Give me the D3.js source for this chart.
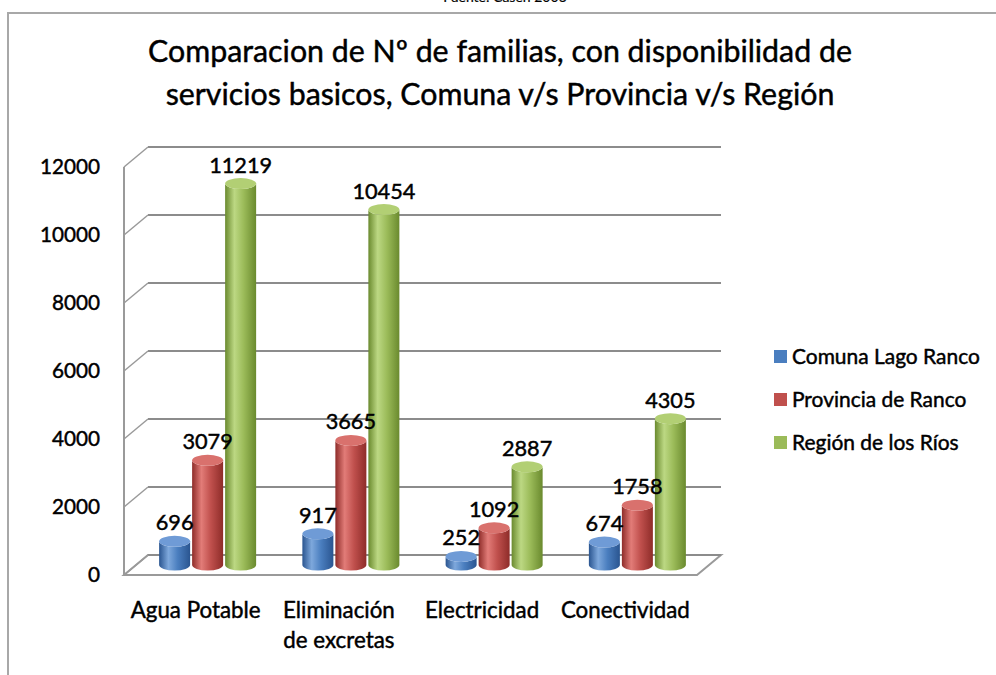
<!DOCTYPE html>
<html>
<head>
<meta charset="utf-8">
<script src="https://cdn.jsdelivr.net/npm/d3@7"></script>
<style>
  html, body { margin: 0; padding: 0; background: #fff; }
  svg { display: block; }
  text { font-family: Lato, "Open Sans", sans-serif; fill: #000; stroke: #000; stroke-width: 0.45px; }
</style>
</head>
<body>
<svg id="chart" width="996" height="675"></svg>
<script>
// ---- data ----
const categories = ["Agua Potable", "Eliminación\nde excretas", "Electricidad", "Conectividad"];
const seriesNames = ["Comuna Lago Ranco", "Provincia de Ranco", "Región de los Ríos"];
const comuna = [696, 917, 252, 674];
const provincia = [3079, 3665, 1092, 1758];
const region = [11219, 10454, 2887, 4305];
const yTicks = [0, 2000, 4000, 6000, 8000, 10000, 12000];
const titleLines = ["Comparacion de Nº de familias, con disponibilidad de",
                    "servicios basicos, Comuna v/s Provincia v/s Región"];
const sourceText = "Fuente: Casen 2006";

const seriesValues = [comuna, provincia, region];
const colors = [
  {base: "#4a7ebf", light: "#7ea8dc", dark: "#2a5590", top: "#6f9bd6"},
  {base: "#c0504d", light: "#e27c78", dark: "#8e2c29", top: "#d9716d"},
  {base: "#9bbb59", light: "#bcd883", dark: "#6a8a2e", top: "#b2cf74"}
];

const svg = d3.select("#chart");
const defs = svg.append("defs");

function fitSize(sample, target, start, weight) {
  const t = svg.append("text").attr("font-size", start).attr("font-weight", weight || 400).text(sample);
  const w = t.node().getComputedTextLength();
  t.remove();
  return start * target / w;
}

// frame
svg.append("rect").attr("x", 8).attr("y", 13).attr("width", 1100).attr("height", 800)
  .attr("fill", "none").attr("stroke", "#a8a8a8").attr("stroke-width", 2);

// source (cut off at top, as in the reference)
svg.append("text").attr("x", 505).attr("y", 2).attr("text-anchor", "middle")
  .attr("font-size", 14).style("stroke-width", "0.2px").text(sourceText);

// title
const titleSize = fitSize(titleLines[0], 704, 26, 400);
svg.append("g").selectAll("text").data(titleLines).join("text")
  .attr("x", 500).attr("y", (d, i) => 62 + i * 43)
  .attr("text-anchor", "middle").attr("font-size", titleSize).text(d => d);

// scales
const depthX = 24, depthY = -20;
const yFront = d3.scaleLinear().domain([0, 12000]).range([575, 167]);
const x0 = d3.scaleBand().domain(categories).range([124, 697]);
const x1 = d3.scaleBand().domain(seriesNames).range([-49.5, 49.5]);
const xEnd = x0.range()[1];
const xStart = x0.range()[0];

// walls & gridlines
const grid = svg.append("g");
const floorY = yFront(0);
grid.append("path")
  .attr("d", `M${xStart},${floorY} L${xEnd},${floorY} L${xEnd + depthX},${floorY + depthY} L${xStart + depthX},${floorY + depthY} Z`)
  .attr("fill", "#fff").attr("stroke", "#9a9a9a").attr("stroke-width", 2);
grid.selectAll("line.g").data(yTicks).join("line").attr("class", "g")
  .attr("x1", xStart + depthX).attr("x2", xEnd + depthX)
  .attr("y1", d => yFront(d) + depthY).attr("y2", d => yFront(d) + depthY)
  .attr("stroke", "#8c8c8c").attr("stroke-width", 2);
grid.selectAll("line.d").data(yTicks).join("line").attr("class", "d")
  .attr("x1", xStart).attr("x2", xStart + depthX)
  .attr("y1", d => yFront(d)).attr("y2", d => yFront(d) + depthY)
  .attr("stroke", "#9a9a9a").attr("stroke-width", 1.5);
grid.append("line").attr("x1", xStart).attr("x2", xStart)
  .attr("y1", yFront(12000)).attr("y2", yFront(0))
  .attr("stroke", "#9a9a9a").attr("stroke-width", 2);

// y tick labels
const tickSize = fitSize("12000", 60, 20, 400);
svg.append("g").selectAll("text").data(yTicks).join("text")
  .attr("x", 100).attr("y", d => yFront(d)).attr("dy", "0.36em")
  .attr("text-anchor", "end").attr("font-size", tickSize).text(d => d);

// gradients
colors.forEach((c, i) => {
  const g = defs.append("linearGradient").attr("id", "grad" + i)
    .attr("x1", "0%").attr("x2", "100%").attr("y1", "0%").attr("y2", "0%");
  g.append("stop").attr("offset", "0%").attr("stop-color", c.dark);
  g.append("stop").attr("offset", "30%").attr("stop-color", c.light);
  g.append("stop").attr("offset", "60%").attr("stop-color", c.base);
  g.append("stop").attr("offset", "100%").attr("stop-color", c.dark);
});

// bars (cylinders), at half depth
const midX = depthX / 2, midY = depthY / 2;
const barW = 31, rx = barW / 2, ry = 5.5;
const bars = [];
categories.forEach((cat, ci) => {
  seriesNames.forEach((s, si) => {
    const cx = x0(cat) + x0.bandwidth() / 2 + midX + x1(s) + x1.bandwidth() / 2;
    bars.push({cx, v: seriesValues[si][ci], si});
  });
});
const yMid = v => yFront(v) + midY;
const barG = svg.append("g");
bars.forEach(b => {
  const top = yMid(b.v), bot = yMid(0);
  const g = barG.append("g");
  g.append("path")
    .attr("d", `M${b.cx - rx},${top} L${b.cx - rx},${bot} A${rx},${ry} 0 0 0 ${b.cx + rx},${bot} L${b.cx + rx},${top} A${rx},${ry} 0 0 1 ${b.cx - rx},${top} Z`)
    .attr("fill", `url(#grad${b.si})`);
  g.append("ellipse").attr("cx", b.cx).attr("cy", top).attr("rx", rx).attr("ry", ry)
    .attr("fill", colors[b.si].top);
});

// data labels
const labelSize = fitSize("10454", 63, 20, 400);
svg.append("g").selectAll("text").data(bars).join("text")
  .attr("x", d => d.cx).attr("y", d => yMid(d.v) - 11)
  .attr("text-anchor", "middle").attr("font-size", labelSize).text(d => d.v);

// category labels
const catSize = fitSize("Agua Potable", 130, 20, 400);
const catG = svg.append("g");
categories.forEach(cat => {
  const lines = cat.split("\n");
  catG.append("g").selectAll("text").data(lines).join("text")
    .attr("x", x0(cat) + x0.bandwidth() / 2)
    .attr("y", (d, i) => 618 + i * 30)
    .attr("text-anchor", "middle").attr("font-size", catSize).text(d => d);
});

// legend
const legSize = fitSize(seriesNames[0], 188, 20, 400);
const leg = svg.append("g").selectAll("g").data(seriesNames).join("g")
  .attr("transform", (d, i) => `translate(774, ${356 + i * 43})`);
leg.append("rect").attr("x", 0).attr("y", -6).attr("width", 13).attr("height", 13)
  .attr("fill", (d, i) => colors[i].base);
leg.append("text").attr("x", 18).attr("y", 0).attr("dy", "0.36em")
  .attr("font-size", legSize).text(d => d);
</script>
</body>
</html>
